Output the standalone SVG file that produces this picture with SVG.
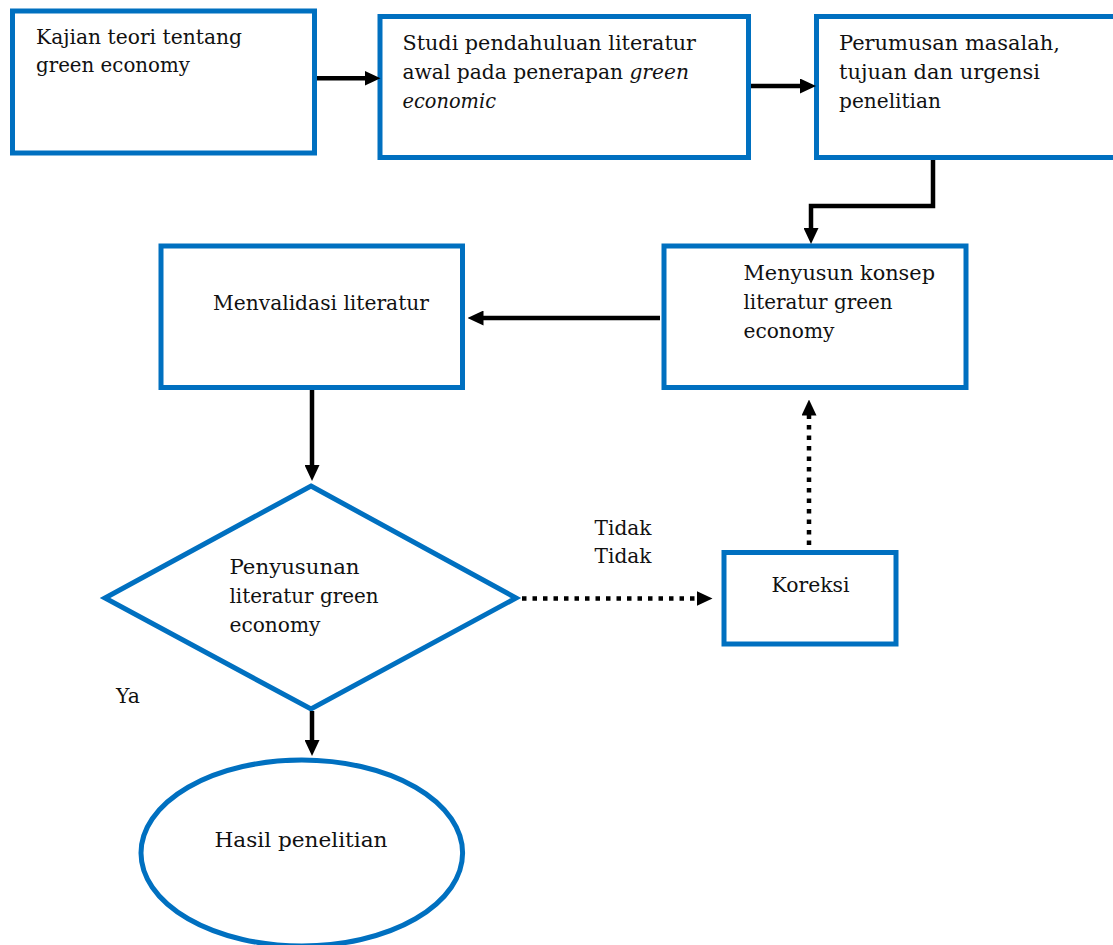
<svg xmlns="http://www.w3.org/2000/svg" width="1113" height="945" viewBox="0 0 1113 945">
<style>
.box{fill:#fff;stroke:#0070C0;stroke-width:5}
.t{font-family:"DejaVu Serif","Liberation Serif",serif;font-size:20.5px;fill:#111}
.i{font-style:italic}
.c{fill:none;stroke:#000;stroke-width:4.5}
.d{fill:none;stroke:#000;stroke-width:4.5;stroke-dasharray:4.5 6}
</style>
<defs>
<marker id="ah" viewBox="0 0 16 15" refX="2" refY="7.5" markerWidth="16" markerHeight="15" markerUnits="userSpaceOnUse" orient="auto">
<path d="M0,0 L16,7.5 L0,15 z" fill="#000"/>
</marker>
</defs>
<rect width="1113" height="945" fill="#fff"/>
<g id="n1">
<rect class="box" x="12.5" y="11" width="302" height="142"/>
<text class="t" x="36" y="43.5" textLength="206" lengthAdjust="spacingAndGlyphs">Kajian teori tentang</text>
<text class="t" x="36" y="72" textLength="154" lengthAdjust="spacingAndGlyphs">green economy</text>
</g>
<g id="n2">
<rect class="box" x="380" y="16.5" width="368.5" height="141"/>
<text class="t" x="402.5" y="50" textLength="293.5" lengthAdjust="spacingAndGlyphs">Studi pendahuluan literatur</text>
<text class="t" x="402.5" y="79" textLength="286.5" lengthAdjust="spacingAndGlyphs">awal pada penerapan <tspan class="i">green</tspan></text>
<text class="t i" x="402.5" y="108" textLength="93.5" lengthAdjust="spacingAndGlyphs">economic</text>
</g>
<g id="n3">
<rect class="box" x="816.5" y="16.5" width="310" height="141"/>
<text class="t" x="839" y="50" textLength="221" lengthAdjust="spacingAndGlyphs">Perumusan masalah,</text>
<text class="t" x="839" y="79" textLength="201" lengthAdjust="spacingAndGlyphs">tujuan dan urgensi</text>
<text class="t" x="839" y="108" textLength="102" lengthAdjust="spacingAndGlyphs">penelitian</text>
</g>
<g id="n4">
<rect class="box" x="161" y="246" width="301.5" height="141.5"/>
<text class="t" x="213" y="310" textLength="216" lengthAdjust="spacingAndGlyphs">Menvalidasi literatur</text>
</g>
<g id="n5">
<rect class="box" x="664" y="246" width="302" height="141.5"/>
<text class="t" x="743.5" y="280" textLength="191.5" lengthAdjust="spacingAndGlyphs">Menyusun konsep</text>
<text class="t" x="743.5" y="309" textLength="149" lengthAdjust="spacingAndGlyphs">literatur green</text>
<text class="t" x="743.5" y="338" textLength="91" lengthAdjust="spacingAndGlyphs">economy</text>
</g>
<g id="n6">
<polygon class="box" points="311,486 516,598 311,709 105,598"/>
<text class="t" x="229.5" y="574" textLength="130" lengthAdjust="spacingAndGlyphs">Penyusunan</text>
<text class="t" x="229.5" y="603" textLength="149" lengthAdjust="spacingAndGlyphs">literatur green</text>
<text class="t" x="229.5" y="632" textLength="91" lengthAdjust="spacingAndGlyphs">economy</text>
</g>
<g id="n7">
<rect class="box" x="724" y="552.5" width="172" height="91.5"/>
<text class="t" x="771.5" y="591.5" textLength="78" lengthAdjust="spacingAndGlyphs">Koreksi</text>
</g>
<g id="n8">
<ellipse class="box" cx="301.8" cy="853" rx="160.8" ry="93"/>
<text class="t" x="214.5" y="847" textLength="173" lengthAdjust="spacingAndGlyphs">Hasil penelitian</text>
</g>
<g id="labels">
<text class="t" x="594.5" y="535" textLength="57" lengthAdjust="spacingAndGlyphs">Tidak</text>
<text class="t" x="594.5" y="563" textLength="57" lengthAdjust="spacingAndGlyphs">Tidak</text>
<text class="t" x="116" y="703" textLength="24" lengthAdjust="spacingAndGlyphs">Ya</text>
</g>
<g id="connectors">
<path class="c" d="M317,78.3 H366.5" marker-end="url(#ah)"/>
<path class="c" d="M751,86 H802" marker-end="url(#ah)"/>
<path class="c" d="M933,160 V206 H811 V230" marker-end="url(#ah)"/>
<path class="c" d="M660,318 H481.5" marker-end="url(#ah)"/>
<path class="c" d="M312,390 V467" marker-end="url(#ah)"/>
<path class="c" d="M312,711 V742" marker-end="url(#ah)"/>
<path class="d" d="M522,598.5 H698.5" marker-end="url(#ah)"/>
<path class="d" d="M809,545 V413.5" marker-end="url(#ah)"/>
</g>
</svg>
